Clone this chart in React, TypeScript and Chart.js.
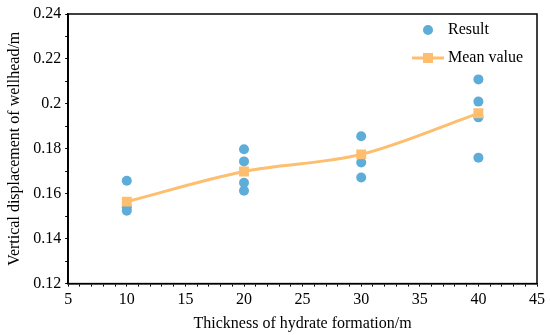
import React, { useEffect, useRef } from "react";
import { Chart, registerables } from "chart.js";

Chart.register(...registerables);

const thickness = [10, 20, 30, 40];
const resultX = [10, 10, 10, 20, 20, 20, 20, 30, 30, 30, 40, 40, 40, 40];
const resultY = [0.1658, 0.154, 0.1524, 0.1798, 0.1744, 0.1649, 0.1613, 0.1856, 0.1739, 0.1672, 0.2109, 0.201, 0.194, 0.176];
const meanY = [0.1565, 0.1699, 0.1775, 0.1958];
const xTicks = [5, 10, 15, 20, 25, 30, 35, 40, 45];
const yTicks = [0.12, 0.14, 0.16, 0.18, 0.2, 0.22, 0.24];
const seriesNames = ["Result", "Mean value"];

const BLUE = "#5DADD8";
const ORANGE = "#FDBE6F";
const FONT = "'Liberation Serif', 'Times New Roman', serif";

const framePlugin = {
  id: "frame",
  afterDatasetsDraw(chart: any) {
    const { ctx, chartArea } = chart;
    ctx.save();
    ctx.strokeStyle = "#000";
    ctx.lineWidth = 1.5;
    ctx.strokeRect(chartArea.left, chartArea.top, chartArea.right - chartArea.left, chartArea.bottom - chartArea.top);
    ctx.restore();
  },
};

const legendPlugin = {
  id: "customLegend",
  afterDraw(chart: any) {
    const { ctx, chartArea } = chart;
    const cx = chartArea.right - 109;
    const tx = chartArea.right - 89;
    const y1 = chartArea.top + 16;
    const y2 = chartArea.top + 44;
    ctx.save();
    ctx.font = "16px " + FONT;
    ctx.fillStyle = "#000";
    ctx.textBaseline = "middle";
    ctx.textAlign = "left";
    ctx.beginPath();
    ctx.fillStyle = BLUE;
    ctx.arc(cx, y1, 5, 0, Math.PI * 2);
    ctx.fill();
    ctx.fillStyle = "#000";
    ctx.fillText(seriesNames[0], tx, y1);
    ctx.strokeStyle = ORANGE;
    ctx.lineWidth = 3;
    ctx.beginPath();
    ctx.moveTo(cx - 16, y2);
    ctx.lineTo(cx + 16, y2);
    ctx.stroke();
    ctx.fillStyle = ORANGE;
    ctx.fillRect(cx - 5, y2 - 5, 10, 10);
    ctx.fillStyle = "#000";
    ctx.fillText(seriesNames[1], tx, y2);
    ctx.restore();
  },
};

export default function App() {
  const ref = useRef<HTMLCanvasElement>(null);
  useEffect(() => {
    if (!ref.current) return;
    const chart = new Chart(ref.current, {
      type: "scatter",
      data: {
        datasets: [
          {
            label: seriesNames[1],
            data: thickness.map((x, i) => ({ x, y: meanY[i] })),
            showLine: true,
            borderColor: ORANGE,
            backgroundColor: ORANGE,
            borderWidth: 3,
            pointStyle: "rect",
            pointRadius: 7,
            pointBorderWidth: 0,
            tension: 0.4,
            cubicInterpolationMode: "monotone",
            order: 0,
          },
          {
            label: seriesNames[0],
            data: resultX.map((x, i) => ({ x, y: resultY[i] })),
            backgroundColor: BLUE,
            borderColor: BLUE,
            pointRadius: 5,
            pointBorderWidth: 0,
            order: 1,
          },
        ],
      },
      options: {
        animation: false,
        responsive: false,
        maintainAspectRatio: false,
        layout: { padding: { top: 14, right: 13, left: 5, bottom: 0 } },
        plugins: { legend: { display: false }, tooltip: { enabled: false } },
        scales: {
          x: {
            type: "linear",
            min: 5,
            max: 45,
            afterBuildTicks: (axis: any) => {
              const t = [];
              for (let v = 5; v <= 45; v += 1) t.push({ value: v });
              axis.ticks = t;
            },
            ticks: {
              autoSkip: false,
              maxRotation: 0,
              color: "#000",
              font: { family: FONT, size: 16 },
              padding: 4,
              callback: (v: any) => (xTicks.includes(Number(v)) ? String(v) : ""),
            },
            grid: { drawOnChartArea: false, drawTicks: true, tickLength: 3, color: "#000", lineWidth: 1 },
            border: { display: true, color: "#000", width: 1.5 },
            title: {
              display: true,
              text: "Thickness of hydrate formation/m",
              color: "#000",
              font: { family: FONT, size: 16 },
              padding: { top: 0, bottom: 2 },
            },
          },
          y: {
            type: "linear",
            min: 0.12,
            max: 0.24,
            afterBuildTicks: (axis: any) => {
              const t = [];
              for (let i = 0; i <= 12; i++) t.push({ value: Math.round((0.12 + i * 0.01) * 100) / 100 });
              axis.ticks = t;
            },
            ticks: {
              autoSkip: false,
              color: "#000",
              font: { family: FONT, size: 16 },
              padding: 4,
              callback: (v: any) => {
                const n = Math.round(Number(v) * 100) / 100;
                return yTicks.some((t) => Math.abs(t - n) < 1e-6) ? String(n) : "";
              },
            },
            grid: { drawOnChartArea: false, drawTicks: true, tickLength: 3, color: "#000", lineWidth: 1 },
            border: { display: true, color: "#000", width: 1.5 },
            title: {
              display: true,
              text: "Vertical displacement of wellhead/m",
              color: "#000",
              font: { family: FONT, size: 16 },
              padding: { top: 0, bottom: 5 },
            },
          },
        },
      },
      plugins: [framePlugin, legendPlugin],
    });
    return () => chart.destroy();
  }, []);
  return (
    <div style={{ position: "fixed", left: 0, top: 0, width: 550, height: 335, background: "#fff" }}>
      <canvas ref={ref} width={550} height={335} style={{ width: 550, height: 335 }} />
    </div>
  );
}
